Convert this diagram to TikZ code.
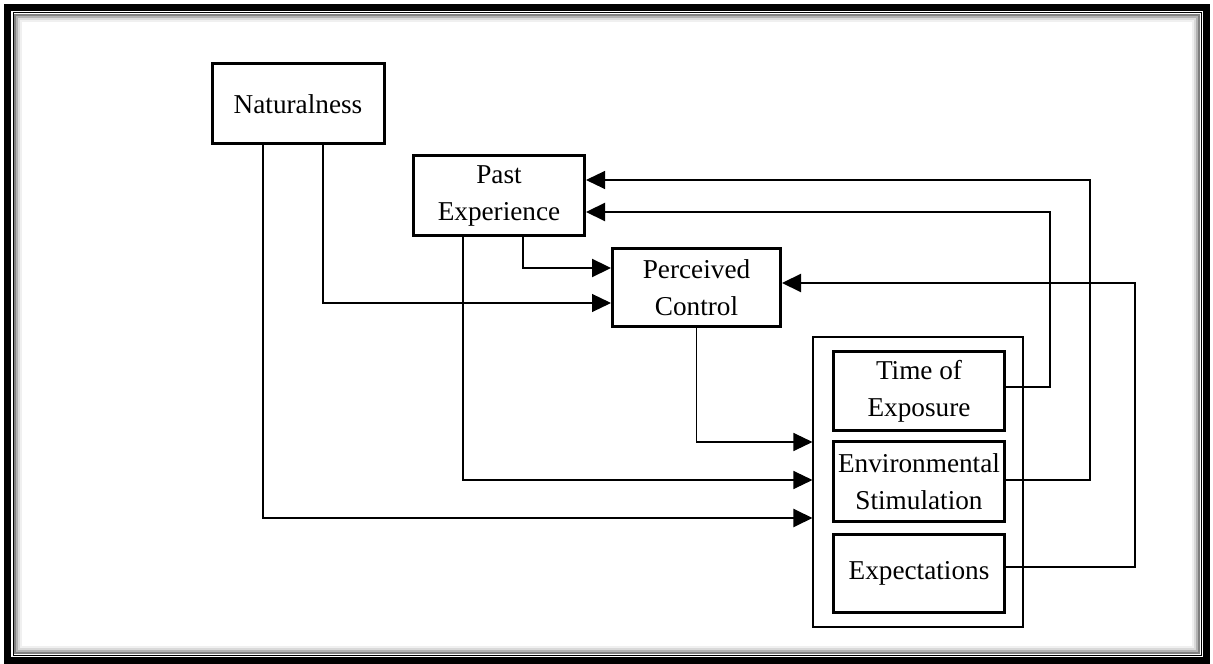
\documentclass[tikz,border=0pt]{standalone}
\usepackage{fontspec}
\setmainfont{Liberation Serif}
\usetikzlibrary{positioning, arrows.meta}

\begin{document}
\begin{tikzpicture}[x=0.2mm, y=-0.2mm,
  factor/.style={draw, line width=0.6mm, minimum width=34.4mm, minimum height=16mm,
      align=center, font=\fontsize{15.5}{21}\selectfont, inner sep=1pt},
  groupbox/.style={draw, line width=0.22mm, minimum width=42mm, minimum height=58mm},
  thinline/.style={line width=0.22mm},
  boldline/.style={line width=0.45mm},
  arr/.style={-{Triangle[length=3.8mm, width=3.6mm]}}]
\useasboundingbox (0,0) rectangle (1213,664);

% frame
\draw[line width=1.4mm] (7.5,7.5) rectangle (1206.5,660.5);
\draw[line width=0.2mm] (13,13) rectangle (1201,655);
\foreach \i/\g in {15/50,17/30,19/15,21/6}
  \draw[black!\g, line width=0.45mm] (\i,\i) rectangle ({1214-\i},{668-\i});

% factors
\node[factor] (nat) at (298,104) {Naturalness};
\node[factor, minimum width=34.2mm] (pe) at (499,196) {Past\\Experience};
\node[factor, minimum width=33.6mm, minimum height=15.6mm] (pc) at (696.5,287.5) {Perceived\\Control};
\node[groupbox] (grp) at (918,482) {};
\node[factor, minimum width=34.2mm, minimum height=15.8mm] (time) at (919,391) {Time of\\Exposure};
\node[factor, minimum width=34.2mm] (env) at (919,481.5) {Environmental\\Stimulation};
\node[factor, minimum width=34.2mm, minimum height=15.6mm] (exp) at (919,573.5) {Expectations};

% links
\draw[boldline, arr] ([xshift=-7mm]nat.south) |- ([yshift=-7.2mm]grp.west);
\draw[thinline, arr] ([xshift=5mm]nat.south) |- ([yshift=-3.1mm]pc.west);
\draw[boldline, arr] ([xshift=4.8mm]pe.south) |- ([yshift=3.9mm]pc.west);
\draw[thinline, arr] ([xshift=-7.2mm]pe.south) |- ([yshift=0.4mm]grp.west);
\draw[thinline, arr] (pc.south) |- ([yshift=8mm]grp.west);
\draw[boldline, arr] ([yshift=0.8mm]time.east) -- ++(8.8mm,0) |- ([yshift=-3.2mm]pe.east);
\draw[thinline, arr] ([yshift=0.3mm]env.east) -- ++(16.8mm,0) |- ([yshift=3.2mm]pe.east);
\draw[boldline, arr] ([yshift=1.3mm]exp.east) -- ++(25.8mm,0) |- ([yshift=0.9mm]pc.east);
\end{tikzpicture}
\end{document}
